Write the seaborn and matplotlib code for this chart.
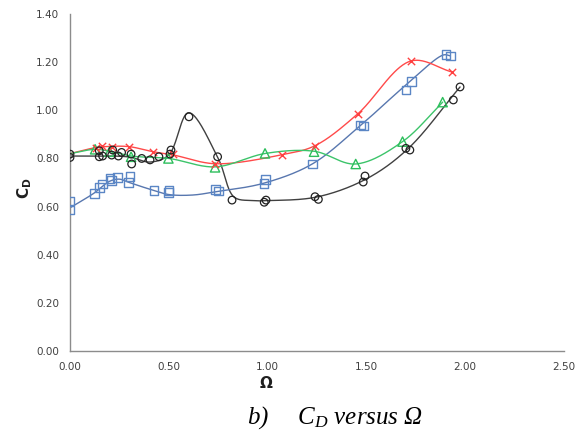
import numpy as np
import pandas as pd
import matplotlib
matplotlib.use("Agg")
import matplotlib.pyplot as plt
import seaborn as sns

# ---------------- data ----------------
circ_x = [0, 0, 0.148, 0.165, 0.148, 0.216, 0.211, 0.245, 0.261, 0.309, 0.312, 0.363, 0.405,
          0.45, 0.506, 0.511, 0.602, 0.747, 0.82, 0.983, 0.992, 1.24, 1.257, 1.493, 1.484,
          1.70, 1.72, 1.94, 1.974]
circ_y = [0.818, 0.804, 0.807, 0.81, 0.832, 0.835, 0.814, 0.81, 0.825, 0.818, 0.777, 0.80, 0.794,
          0.807, 0.818, 0.835, 0.973, 0.807, 0.627, 0.618, 0.627, 0.641, 0.63, 0.727, 0.702,
          0.842, 0.835, 1.043, 1.097]

sq_x = [0, 0, 0.123, 0.148, 0.164, 0.202, 0.211, 0.24, 0.295, 0.304, 0.425, 0.498, 0.501,
        0.737, 0.75, 0.982, 0.988, 1.226, 1.471, 1.484, 1.70, 1.729, 1.903, 1.927]
sq_y = [0.623, 0.586, 0.655, 0.68, 0.694, 0.717, 0.707, 0.721, 0.699, 0.724, 0.667, 0.658, 0.666,
        0.671, 0.665, 0.697, 0.711, 0.777, 0.939, 0.935, 1.084, 1.119, 1.232, 1.226]

cross_x = [0.13, 0.164, 0.214, 0.299, 0.422, 0.523, 0.735, 1.075, 1.24, 1.456, 1.726, 1.933]
cross_y = [0.842, 0.852, 0.849, 0.849, 0.828, 0.817, 0.777, 0.814, 0.853, 0.985, 1.205, 1.159]

tri_x = [0.127, 0.2, 0.309, 0.498, 0.734, 0.987, 1.235, 1.446, 1.683, 1.886]
tri_y = [0.838, 0.828, 0.807, 0.80, 0.763, 0.821, 0.828, 0.777, 0.87, 1.034]

# smooth-curve knots
blk_kx = [0, 0.15, 0.3, 0.405, 0.5, 0.6, 0.75, 0.83, 0.92, 1.0, 1.25, 1.5, 1.71, 1.974]
blk_ky = [0.81, 0.81, 0.806, 0.785, 0.815, 0.99, 0.80, 0.64, 0.625, 0.625, 0.64, 0.715, 0.84, 1.097]
blu_kx = [0, 0.12, 0.2, 0.25, 0.3, 0.42, 0.5, 0.62, 0.74, 0.98, 1.226, 1.47, 1.70, 1.89, 1.925]
blu_ky = [0.595, 0.655, 0.705, 0.714, 0.70, 0.668, 0.65, 0.648, 0.662, 0.697, 0.777, 0.937, 1.105, 1.23, 1.226]
red_kx = [0, 0.13, 0.2, 0.3, 0.42, 0.52, 0.735, 1.07, 1.24, 1.456, 1.726, 1.933]
red_ky = [0.82, 0.845, 0.85, 0.849, 0.828, 0.815, 0.778, 0.815, 0.853, 0.985, 1.205, 1.159]
grn_kx = [0, 0.127, 0.2, 0.31, 0.5, 0.734, 0.99, 1.235, 1.446, 1.683, 1.886]
grn_ky = [0.82, 0.838, 0.83, 0.81, 0.80, 0.765, 0.821, 0.83, 0.777, 0.87, 1.034]

x_ticks = [0.0, 0.5, 1.0, 1.5, 2.0, 2.5]
y_ticks = [0.0, 0.2, 0.4, 0.6, 0.8, 1.0, 1.2, 1.4]


def smooth(xs, ys, n=40, alpha=0.5, sx=197.6, sy=240.7):
    """Centripetal Catmull-Rom curve through the knots (Excel-like smoothing)."""
    P = np.column_stack([np.array(xs) * sx, np.array(ys) * sy])
    P = np.vstack([2 * P[0] - P[1], P, 2 * P[-1] - P[-2]])
    out = []
    for i in range(1, len(P) - 2):
        p0, p1, p2, p3 = P[i - 1], P[i], P[i + 1], P[i + 2]
        t0 = 0.0
        t1 = t0 + max(np.linalg.norm(p1 - p0), 1e-6) ** alpha
        t2 = t1 + max(np.linalg.norm(p2 - p1), 1e-6) ** alpha
        t3 = t2 + max(np.linalg.norm(p3 - p2), 1e-6) ** alpha
        t = np.linspace(t1, t2, n)[:, None]
        A1 = (t1 - t) / (t1 - t0) * p0 + (t - t0) / (t1 - t0) * p1
        A2 = (t2 - t) / (t2 - t1) * p1 + (t - t1) / (t2 - t1) * p2
        A3 = (t3 - t) / (t3 - t2) * p2 + (t - t2) / (t3 - t2) * p3
        B1 = (t2 - t) / (t2 - t0) * A1 + (t - t0) / (t2 - t0) * A2
        B2 = (t3 - t) / (t3 - t1) * A2 + (t - t1) / (t3 - t1) * A3
        C = (t2 - t) / (t2 - t1) * B1 + (t - t1) / (t2 - t1) * B2
        out.append(C if i == 1 else C[1:])
    C = np.vstack(out)
    return C[:, 0] / sx, C[:, 1] / sy


sns.set_theme(style="white")
plt.rcParams["font.family"] = ["DejaVu Sans"]
plt.rcParams["mathtext.fontset"] = "custom"
plt.rcParams["mathtext.rm"] = "Liberation Serif:italic"
plt.rcParams["mathtext.it"] = "Liberation Serif:italic"
plt.rcParams["mathtext.bf"] = "DejaVu Sans:bold"

fig = plt.figure(figsize=(5.81, 4.34), dpi=100)
ax = fig.add_axes([0.1205, 0.1912, 0.8502, 0.7765])

curves = [
    (blk_kx, blk_ky, "#404040"),
    (blu_kx, blu_ky, "#5877AF"),
    (red_kx, red_ky, "#FF4A4A"),
    (grn_kx, grn_ky, "#3CC46A"),
]
for kx, ky, col in curves:
    cx, cy = smooth(kx, ky)
    df = pd.DataFrame({"x": cx, "y": cy})
    sns.lineplot(data=df, x="x", y="y", ax=ax, sort=False, estimator=None,
                 color=col, linewidth=1.0)

sns.scatterplot(x=sq_x, y=sq_y, ax=ax, marker="s", s=40, facecolor="none",
                edgecolor="#5B86C5", linewidth=1.0, zorder=5)
sns.scatterplot(x=tri_x, y=tri_y, ax=ax, marker="^", s=45, facecolor="none",
                edgecolor="#2DBE5C", linewidth=1.0, zorder=5)
sns.scatterplot(x=cross_x, y=cross_y, ax=ax, marker="x", s=28, color="#FF4040",
                linewidth=1.0, zorder=5)
sns.scatterplot(x=circ_x, y=circ_y, ax=ax, marker="o", s=30, facecolor="none",
                edgecolor="#222222", linewidth=0.9, zorder=6)

ax.set_xlim(0, 2.5)
ax.set_ylim(0, 1.4)
ax.set_xticks(x_ticks)
ax.set_yticks(y_ticks)
ax.set_xticklabels([f"{v:.2f}" for v in x_ticks])
ax.set_yticklabels([f"{v:.2f}" for v in y_ticks])
for s in ["top", "right"]:
    ax.spines[s].set_visible(False)
for s in ["left", "bottom"]:
    ax.spines[s].set_color("#8C8C8C")
    ax.spines[s].set_linewidth(1.0)
ax.tick_params(axis="both", which="major", direction="out", length=4, width=1,
               color="#8C8C8C", labelsize=7.5, labelcolor="#404040", pad=4)
ax.set_xlabel("")
ax.set_ylabel("")

fig.text(0.042, 0.567, r"$\mathbf{C_D}$", rotation=90, ha="center", va="center",
         fontsize=11, color="#202020")
fig.text(0.458, 0.117, "Ω", ha="center", va="center", fontsize=11,
         fontweight="bold", color="#202020")
fig.text(0.577, 0.037, r"$b)\quad\ \ C_D\ versus\ Ω$", ha="center", va="center",
         fontsize=18, color="black")

fig.savefig("out.png", dpi=100)
